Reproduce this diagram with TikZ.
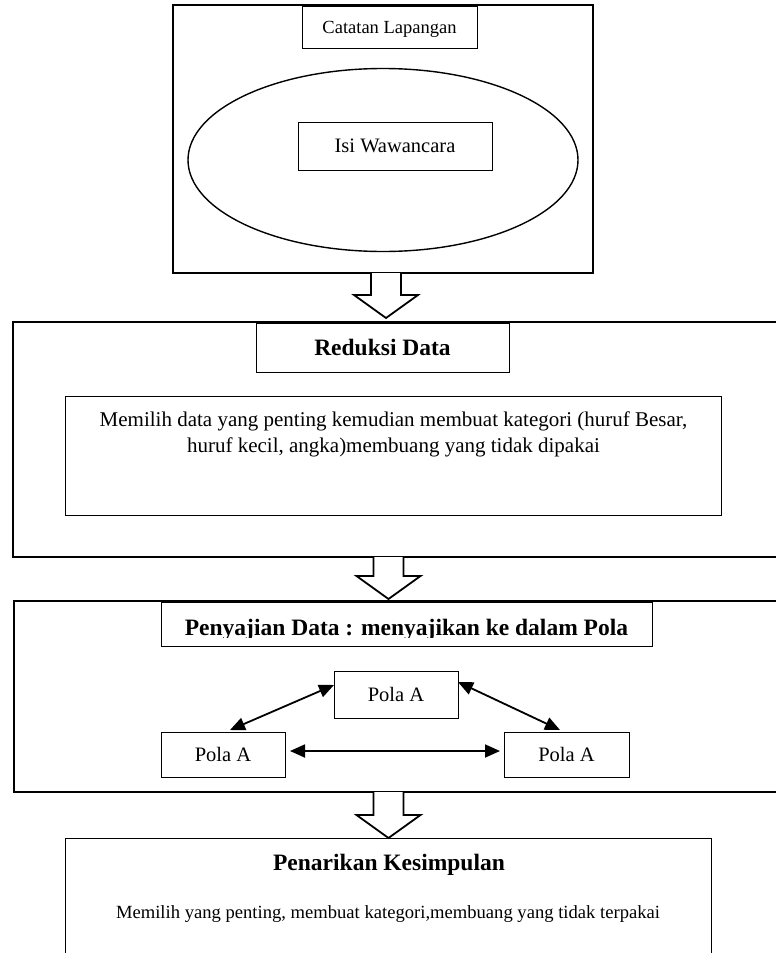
\documentclass[tikz,border=0pt]{standalone}
\usepackage{fontspec}
\setmainfont{Liberation Serif}
\usetikzlibrary{shapes.geometric,arrows.meta,calc}

\tikzset{
    frame/.style={draw, rectangle, line width=1.8pt, inner sep=0pt, outer sep=0pt},
    box/.style={draw, rectangle, line width=0.9pt, inner sep=0pt, outer sep=0pt},
    blockarrow/.style={draw, fill=white, line width=1.8pt, line join=miter},
    link/.style={line width=1.8pt, {Triangle[length=15pt,width=13pt]}-{Triangle[length=15pt,width=13pt]}},
    titletext/.style={font=\fontsize{23.5}{28}\selectfont\bfseries},
}
% block arrow from a frame down to a tip point
\newcommand{\flowarrow}[2]{%
    \draw[blockarrow] let \p1=(#1), \p2=(#2) in
        (\x2-15pt,\y1) -- (\x2-15pt,\y2+23pt) -- (\x2-32pt,\y2+23pt) -- (\x2,\y2)
        -- (\x2+32pt,\y2+23pt) -- (\x2+15pt,\y2+23pt) -- (\x2+15pt,\y1);}

\begin{document}
\begin{tikzpicture}[x=1pt,y=-1pt]
    \useasboundingbox (0,0) rectangle (776,953);
    \clip (0,0) rectangle (776,953);

    % catatan lapangan
    \node[frame, minimum width=420pt, minimum height=268pt] (lapangan) at (383,139) {};
    \node[box, minimum width=175pt, minimum height=42pt, text height=12.2pt, text depth=0pt,
        font=\fontsize{18.5}{22}\selectfont] (catatan) at (389.5,27) {Catatan Lapangan};
    \node[draw, ellipse, line width=1.4pt, inner sep=0pt, minimum width=390pt, minimum height=183pt] (wawancara) at (383,160) {};
    \node[box, minimum width=194pt, minimum height=48pt, text height=13.6pt, text depth=0pt,
        font=\fontsize{20.5}{24}\selectfont] (isi) at (395,146) {Isi Wawancara};

    % reduksi data
    \node[frame, minimum width=787pt, minimum height=235pt] (reduksi) at (406.5,439.5) {};
    \node[box, minimum width=253pt, minimum height=49pt, text height=15.6pt, text depth=0pt,
        titletext] (reduksititle) at (382.5,347.5) {Reduksi Data};
    \node[box, minimum width=656pt, minimum height=119pt] (pilih) at (393,455.5) {};
    \node[anchor=north, align=center, inner sep=0pt, font=\fontsize{21}{26}\selectfont]
        (pilihtext) at (393.5,411.5) {Memilih data yang penting kemudian membuat kategori (huruf Besar,\\
        huruf kecil, angka)membuang yang tidak dipakai};

    % penyajian data
    \node[frame, minimum width=786pt, minimum height=191pt] (penyajian) at (407,696.5) {};
    \node[box, minimum width=491pt, minimum height=44pt] (sajititle) at (406.5,624) {};
    \begin{scope}
        \clip (sajititle.north west) rectangle ([yshift=9pt]sajititle.south east);
        \node[titletext, anchor=base, inner sep=0pt] (sajitext) at (406.5,635) {Penyajian Data : menyajikan ke dalam Pola};
    \end{scope}
    \node[box, minimum width=124pt, minimum height=47pt, text height=13.6pt, text depth=0pt,
        font=\fontsize{20.5}{24}\selectfont] (polaT) at (396,694.5) {Pola A};
    \node[box, minimum width=124pt, minimum height=45pt, text height=13.6pt, text depth=0pt,
        font=\fontsize{20.5}{24}\selectfont] (polaL) at (223,754.5) {Pola A};
    \node[box, minimum width=125pt, minimum height=45pt, text height=13.6pt, text depth=0pt,
        font=\fontsize{20.5}{24}\selectfont] (polaR) at (566.5,754.5) {Pola A};
    \draw[link] ([xshift=7pt,yshift=2pt]polaL.north) -- ([yshift=9.5pt]polaT.west);
    \draw[link] ([yshift=12.5pt]polaT.east) -- ([xshift=-6.5pt,yshift=2pt]polaR.north);
    \draw[link] ([xshift=5pt,yshift=3.5pt]polaL.east) -- ([xshift=-4pt,yshift=3.5pt]polaR.west);

    % penarikan kesimpulan
    \node[box, minimum width=646pt, minimum height=170pt] (penarikan) at (388,923) {};
    \node[titletext, anchor=base, inner sep=0pt] (tariktitle) at (389,870) {Penarikan Kesimpulan};
    \node[anchor=base, inner sep=0pt, font=\fontsize{18.6}{22}\selectfont]
        (tariktext) at (388,918) {Memilih yang penting, membuat kategori,membuang yang tidak terpakai};

    % panah blok
    \coordinate (tip1) at (386,318);
    \coordinate (tip2) at (388.5,599);
    \coordinate (tip3) at (388.5,838);
    \flowarrow{lapangan.south}{tip1}
    \flowarrow{reduksi.south}{tip2}
    \flowarrow{penyajian.south}{tip3}
\end{tikzpicture}
\end{document}
